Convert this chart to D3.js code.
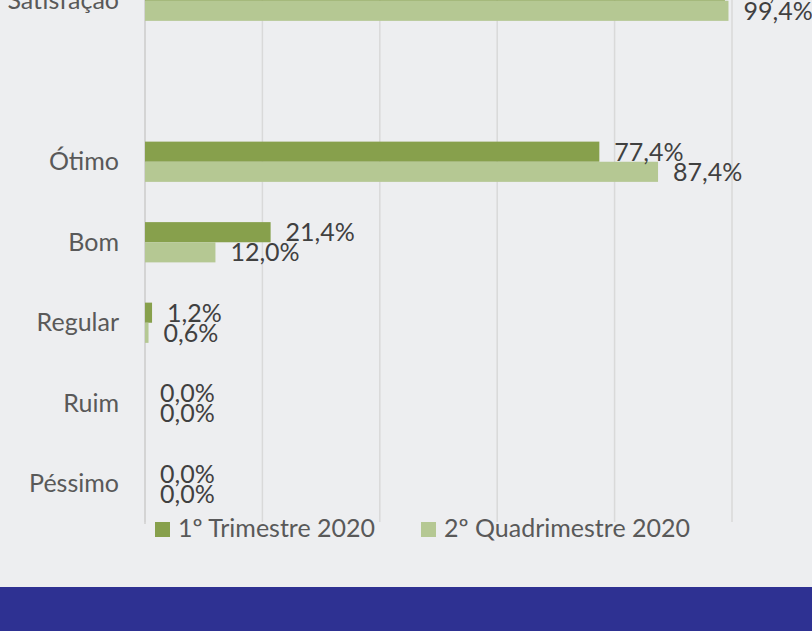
<!DOCTYPE html>
<html>
<head>
<meta charset="utf-8">
<script src="https://d3js.org/d3.v7.min.js"></script>
<style>
  body { margin: 0; background: #edeef0; }
  svg { display: block; font-family: Lato, "Open Sans", sans-serif; }
</style>
</head>
<body>
<svg width="812" height="631"></svg>
<script>
// rows top to bottom, the empty one is the gap under Satisfação
const categories = ["Satisfação", "", "Ótimo", "Bom", "Regular", "Ruim", "Péssimo"];
const series = ["1º Trimestre 2020", "2º Quadrimestre 2020"];
const trimestre = [98.8, null, 77.4, 21.4, 1.2, 0.0, 0.0];
const quadrimestre = [99.4, null, 87.4, 12.0, 0.6, 0.0, 0.0];
const xTicks = [0, 20, 40, 60, 80, 100];

const colors = ["#87a04c", "#b5c893"];

const svg = d3.select("svg");
const W = 812, H = 631;

svg.append("rect").attr("width", W).attr("height", H).attr("fill", "#edeef0");
svg.append("rect").attr("x", 0).attr("y", 587).attr("width", W).attr("height", H - 587).attr("fill", "#2e3192");

const keys = categories.map((c, i) => "r" + i);
const rows = keys.map((k, i) => ({key: k, label: categories[i], vals: [trimestre[i], quadrimestre[i]]}));

const x = d3.scaleLinear().domain([0, 100]).range([145, 732]);
const y = d3.scaleBand().domain(keys).range([-39.5, 524]).paddingInner(0.5).paddingOuter(0.25);
const ySub = d3.scaleBand().domain([0, 1]).range([0, y.bandwidth()]);

// gridlines
svg.append("g")
  .selectAll("line")
  .data(xTicks)
  .join("line")
  .attr("x1", d => x(d)).attr("x2", d => x(d))
  .attr("y1", -40).attr("y2", 522)
  .attr("stroke", "#d9d9d9")
  .attr("stroke-width", 1.5);

// category axis line
svg.append("line")
  .attr("x1", x(0)).attr("x2", x(0))
  .attr("y1", -40).attr("y2", 524)
  .attr("stroke", "#d0d0d0")
  .attr("stroke-width", 1.5);

// category labels
svg.append("g")
  .selectAll("text")
  .data(rows)
  .join("text")
  .attr("x", 119)
  .attr("y", d => y(d.key) + y.bandwidth() / 2)
  .attr("dy", "0.33em")
  .attr("text-anchor", "end")
  .attr("fill", "#595959")
  .style("font-size", "25px")
  .text(d => d.label);

const bars = [];
rows.forEach(r => r.vals.forEach((v, s) => {
  if (v !== null) bars.push({key: r.key, s: s, v: v});
}));

svg.append("g")
  .selectAll("rect")
  .data(bars)
  .join("rect")
  .attr("x", x(0))
  .attr("y", d => y(d.key) + ySub(d.s))
  .attr("width", d => x(d.v) - x(0))
  .attr("height", ySub.bandwidth())
  .attr("fill", d => colors[d.s]);

svg.append("g")
  .selectAll("text")
  .data(bars)
  .join("text")
  .attr("x", d => x(d.v) + 15)
  .attr("y", d => y(d.key) + ySub(d.s) + ySub.bandwidth() / 2)
  .attr("dy", "0.36em")
  .attr("fill", "#404040")
  .style("font-size", "25px")
  .text(d => d3.format(".1f")(d.v).replace(".", ",") + "%");

// legend
const legendX = [155, 421];
const legend = svg.append("g")
  .selectAll("g")
  .data(series)
  .join("g")
  .attr("transform", (d, i) => `translate(${legendX[i]},522)`);
legend.append("rect").attr("width", 15).attr("height", 15).attr("fill", (d, i) => colors[i]);
legend.append("text")
  .attr("x", 23).attr("y", 15)
  .attr("fill", "#595959")
  .style("font-size", "25px")
  .text(d => d);
</script>
</body>
</html>
